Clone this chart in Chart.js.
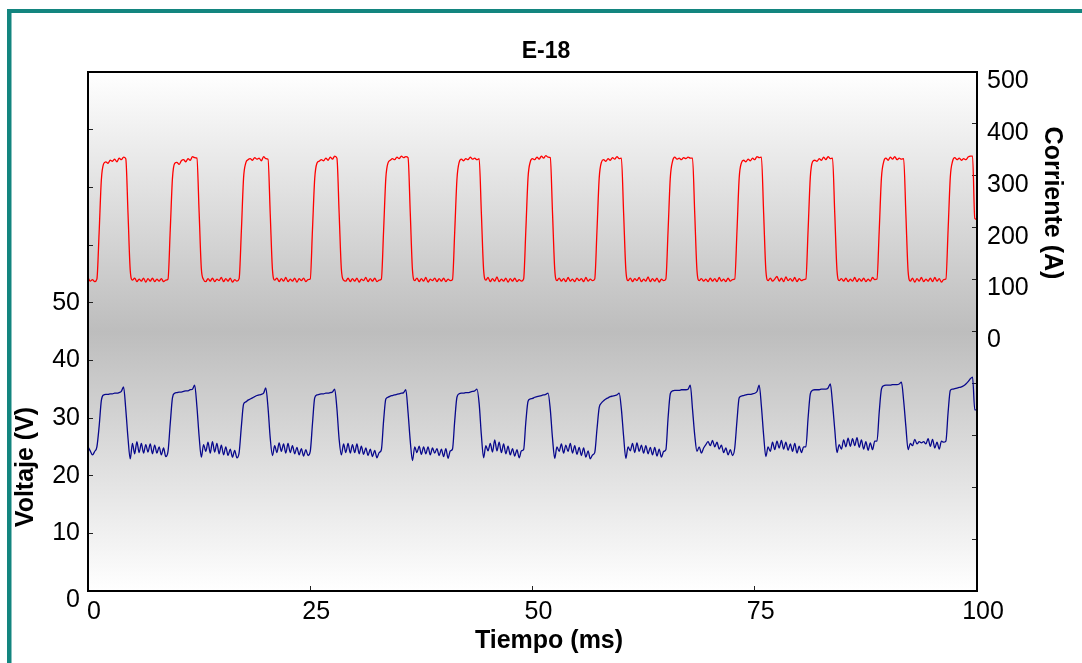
<!DOCTYPE html>
<html>
<head>
<meta charset="utf-8">
<title>E-18</title>
<script src="https://cdn.jsdelivr.net/npm/chart.js@4.4.1/dist/chart.umd.min.js"></script>
<style>
  html, body { margin: 0; padding: 0; background: #ffffff; }
  canvas { display: block; }
</style>
</head>
<body>
<canvas id="grafico" width="1082" height="663"></canvas>
<script>
// Sampling step of both traces, in milliseconds
const paso = 0.25;

// Welding current (A), one sample every 0.25 ms from 0 to 100 ms
const corriente = [
  104, 97, 100, 96,
  101, 190, 292, 323, 327, 324, 330, 328, 332, 327, 334, 331, 336, 333, 228, 118, 99,
  103, 96, 101, 97, 103, 95, 102, 97, 103, 96, 101, 97, 102, 96, 99,
  101, 195, 295, 324, 326, 322, 329, 331, 327, 333, 330, 337, 335, 334, 230, 121, 100,
  96, 102, 97, 103, 96, 101, 98, 104, 96, 102, 97, 103, 95, 100, 97,
  102, 193, 296, 325, 331, 333, 330, 335, 332, 334, 329, 337, 333, 332, 226, 119, 99,
  103, 96, 102, 97, 104, 96, 101, 97, 103, 95, 102, 98, 103, 96, 100,
  101, 196, 294, 324, 328, 331, 329, 334, 330, 336, 332, 338, 334, 228, 120, 99,
  97, 103, 96, 102, 97, 103, 95, 101, 98, 104, 96, 102, 97, 103, 96, 99,
  101, 194, 295, 325, 330, 333, 331, 336, 333, 338, 335, 337, 335, 229, 118, 98,
  103, 96, 102, 97, 104, 95, 101, 98, 103, 96, 102, 97, 103, 96, 101, 98,
  100, 192, 293, 326, 332, 329, 333, 331, 336, 332, 334, 331, 333, 227, 119, 99,
  104, 96, 102, 97, 105, 96, 101, 97, 103, 95, 102, 97, 103, 96, 100, 97,
  101, 195, 297, 327, 333, 331, 336, 332, 338, 334, 339, 336, 335, 229, 120, 98,
  103, 97, 102, 96, 104, 97, 101, 96, 103, 98, 102, 96, 104, 97, 101, 98,
  101, 193, 295, 326, 331, 328, 333, 330, 335, 332, 337, 333, 334, 228, 119, 98,
  103, 96, 102, 98, 104, 96, 101, 97, 105, 96, 102, 97, 103, 95, 101, 98,
  101, 194, 296, 328, 336, 332, 334, 331, 335, 333, 336, 334, 334, 227, 118, 98,
  102, 97, 101, 96, 103, 97, 102, 96, 104, 97, 101, 96, 103, 97, 100,
  101, 193, 296, 325, 330, 327, 332, 329, 334, 331, 337, 335, 336, 228, 118, 98,
  103, 97, 101, 106, 97, 103, 96, 105, 98, 102, 97, 104, 96, 102, 98, 100,
  101, 195, 297, 327, 330, 328, 333, 330, 336, 331, 337, 333, 334, 227, 118, 98,
  102, 97, 103, 96, 101, 97, 104, 96, 102, 97, 103, 96, 101, 97, 104, 100,
  101, 194, 296, 327, 334, 330, 336, 332, 337, 331, 334, 332, 333, 226, 116, 97,
  103, 95, 102, 97, 104, 96, 101, 97, 103, 96, 104, 97, 102, 95, 100,
  101, 196, 298, 328, 335, 331, 334, 330, 333, 331, 336, 338, 338, 218, 216
];

// Arc voltage (V), same time base
const voltaje = [
  25.0, 24.3, 23.6, 24.2,
  25.0, 28.5, 33.0, 34.0, 34.1, 34.1, 34.2, 34.2, 34.3, 34.3, 34.4, 34.6, 35.4, 31.5, 26.5, 22.9, 25.6,
  23.8, 25.9, 24.0, 25.6, 23.9, 25.4, 24.1, 25.5, 23.8, 25.3, 23.9, 25.0, 23.6, 24.8, 23.3,
  24.2, 29.0, 33.5, 34.3, 34.4, 34.5, 34.5, 34.6, 34.7, 34.7, 34.9, 35.0, 35.7, 32.0, 26.8, 23.2, 25.4,
  24.2, 25.8, 23.9, 25.9, 24.1, 25.6, 23.8, 25.3, 23.6, 25.0, 23.5, 24.6, 23.2, 24.4, 23.1,
  24.0, 28.5, 32.4, 32.8, 33.1, 33.3, 33.5, 33.7, 33.9, 34.0, 34.1, 34.3, 35.2, 31.8, 26.5, 23.5, 25.2,
  24.0, 25.7, 24.2, 25.5, 23.9, 25.6, 24.0, 25.2, 23.8, 24.9, 23.6, 24.7, 23.4, 24.5, 23.5,
  24.2, 29.0, 33.5, 34.0, 34.1, 34.2, 34.2, 34.3, 34.3, 34.4, 34.5, 35.0, 31.6, 26.3, 23.6, 25.5,
  24.0, 25.6, 23.9, 25.4, 24.0, 25.5, 23.8, 25.1, 23.7, 24.8, 23.5, 24.6, 23.3, 24.4, 23.1, 24.0,
  24.5, 29.5, 33.3, 33.6, 33.8, 33.9, 34.0, 34.1, 34.2, 34.3, 34.4, 34.9, 31.0, 26.0, 22.6, 25.0,
  24.0, 25.1, 23.7, 25.0, 23.8, 25.0, 23.6, 24.8, 23.9, 24.7, 23.5, 24.6, 23.3, 24.7, 23.0, 24.3,
  24.6, 29.5, 33.6, 34.2, 34.3, 34.3, 34.4, 34.4, 34.5, 34.6, 34.7, 35.0, 32.5, 27.0, 23.1, 25.2,
  24.3, 25.6, 24.1, 26.2, 24.3, 25.8, 24.0, 25.5, 23.8, 25.1, 23.6, 24.7, 23.4, 24.5, 23.1, 24.3,
  24.5, 29.3, 32.9, 33.3, 33.4, 33.6, 33.7, 33.8, 33.9, 34.0, 34.1, 34.3, 31.5, 26.5, 23.0, 25.0,
  24.2, 25.5, 23.9, 25.3, 24.2, 25.6, 23.9, 25.2, 23.7, 24.9, 23.5, 24.8, 23.2, 24.3, 22.9, 23.6,
  24.0, 28.0, 31.8, 32.6, 33.0, 33.3, 33.5, 33.7, 33.8, 33.9, 34.0, 34.3, 31.5, 26.8, 23.0, 25.0,
  24.3, 25.6, 24.0, 25.7, 24.2, 25.3, 23.9, 25.2, 23.8, 24.9, 23.6, 24.9, 23.4, 24.6, 23.2, 24.2,
  24.5, 30.0, 34.2, 34.7, 34.8, 34.8, 34.8, 34.9, 34.9, 34.9, 35.0, 35.7, 31.5, 27.0, 24.2, 25.0,
  23.9, 24.8, 25.4, 25.9, 25.2, 26.1, 25.0, 25.8, 24.6, 25.3, 24.0, 24.8, 23.6, 24.5, 23.5,
  24.8, 29.5, 33.5, 33.8, 33.9, 34.0, 34.1, 34.1, 34.2, 34.3, 34.6, 35.7, 32.0, 27.0, 23.3, 25.0,
  24.2, 25.8, 24.5, 26.0, 24.8, 26.1, 24.6, 25.8, 24.4, 25.5, 24.2, 25.6, 23.9, 25.1, 24.0, 25.0,
  25.0, 30.0, 34.2, 34.8, 34.9, 34.9, 34.9, 35.0, 35.0, 35.0, 35.2, 35.9, 32.5, 28.0, 24.0, 25.4,
  24.6, 26.2, 25.0, 26.5, 25.1, 26.4, 25.2, 26.6, 24.9, 26.2, 24.6, 25.9, 24.4, 25.7, 24.5, 26.0,
  26.0, 31.0, 35.0, 35.6, 35.7, 35.7, 35.7, 35.8, 35.8, 35.8, 35.9, 36.2, 33.0, 28.5, 24.5, 25.6,
  25.2, 26.3, 25.5, 25.9, 25.7, 25.9, 25.5, 26.4, 25.1, 26.3, 24.8, 25.8, 24.6, 26.0, 25.8,
  26.0, 31.0, 34.8, 35.0, 35.1, 35.2, 35.3, 35.4, 35.6, 35.9, 36.3, 36.8, 37.1, 31.4, 31.4
];

// Sample times (ms) for the traces above
const tiempo = corriente.map((_, i) => i * paso);

// Axis ranges and tick steps
const ejeTiempo = { min: 0, max: 100, paso: 25 };
const ejeVoltaje = { min: 0, max: 90, paso: 10, maxEtiqueta: 50 };
const ejeCorriente = { min: -500, max: 500, paso: 100, minEtiqueta: 0 };

const FUENTE = "'Liberation Sans', Arial, Helvetica, sans-serif";

// Frame, plot background, plot border and text titles
const decoracion = {
  id: 'decoracion',
  beforeDraw(chart) {
    const { ctx, chartArea: a } = chart;
    ctx.save();
    ctx.fillStyle = '#ffffff';
    ctx.fillRect(0, 0, chart.width, chart.height);
    // teal frame (left and top edges)
    ctx.fillStyle = '#13857f';
    ctx.fillRect(7, 9, 4.5, chart.height - 9);
    ctx.fillRect(7, 9, chart.width - 7, 4);
    // grey band across the plot area
    const g = ctx.createLinearGradient(0, a.top, 0, a.bottom);
    g.addColorStop(0, '#ffffff');
    g.addColorStop(0.5, '#bdbdbd');
    g.addColorStop(1, '#ffffff');
    ctx.fillStyle = g;
    ctx.fillRect(a.left, a.top, a.right - a.left, a.bottom - a.top);
    ctx.restore();
  },
  afterDraw(chart) {
    const { ctx, chartArea: a } = chart;
    ctx.save();
    ctx.strokeStyle = '#000000';
    ctx.lineWidth = 2;
    ctx.strokeRect(a.left, a.top, a.right - a.left, a.bottom - a.top);

    ctx.fillStyle = '#000000';
    ctx.textBaseline = 'alphabetic';
    ctx.textAlign = 'center';

    ctx.font = 'bold 23px ' + FUENTE;
    ctx.fillText('E-18', 546, 58);

    ctx.font = 'bold 25px ' + FUENTE;
    ctx.fillText('Tiempo (ms)', 549, 648);

    ctx.save();
    ctx.translate(33, 467);
    ctx.rotate(-Math.PI / 2);
    ctx.fillText('Voltaje (V)', 0, 0);
    ctx.restore();

    ctx.save();
    ctx.translate(1045, 203);
    ctx.rotate(Math.PI / 2);
    ctx.fillText('Corriente (A)', 0, 0);
    ctx.restore();

    ctx.restore();
  }
};

const fuenteTicks = { family: FUENTE, size: 25 };

const trazo = {
  pointRadius: 0,
  borderWidth: 1.3,
  cubicInterpolationMode: 'monotone',
  fill: false
};

new Chart(document.getElementById('grafico'), {
  type: 'line',
  data: {
    datasets: [
      Object.assign({
        label: 'Corriente (A)',
        data: tiempo.map((t, i) => ({ x: t, y: corriente[i] })),
        yAxisID: 'y1',
        borderColor: '#ff0000'
      }, trazo),
      Object.assign({
        label: 'Voltaje (V)',
        data: tiempo.map((t, i) => ({ x: t, y: voltaje[i] })),
        yAxisID: 'y',
        borderColor: '#08088c'
      }, trazo)
    ]
  },
  options: {
    responsive: false,
    animation: false,
    devicePixelRatio: 1,
    layout: { padding: { top: 72, left: 0, right: 0, bottom: 0 } },
    plugins: {
      legend: { display: false },
      tooltip: { enabled: false },
      title: { display: false }
    },
    scales: {
      x: {
        type: 'linear',
        position: 'bottom',
        min: ejeTiempo.min,
        max: ejeTiempo.max,
        border: { display: false },
        grid: { drawOnChartArea: false, tickLength: -5, color: '#222222', lineWidth: 1 },
        ticks: {
          stepSize: ejeTiempo.paso,
          color: '#000000',
          font: fuenteTicks,
          padding: 11,
          labelOffset: 6,
          maxRotation: 0,
          autoSkip: false
        },
        afterFit(s) { s.height = 72; }
      },
      y: {
        type: 'linear',
        position: 'left',
        min: ejeVoltaje.min,
        max: ejeVoltaje.max,
        border: { display: false },
        grid: { drawOnChartArea: false, tickLength: -5, color: '#222222', lineWidth: 1 },
        ticks: {
          stepSize: ejeVoltaje.paso,
          color: '#000000',
          font: { family: FUENTE, size: 25, lineHeight: 0.72 },
          padding: 13,
          autoSkip: false,
          // the zero label sits a little below the corner
          callback: v => (v === 0 ? ['', '0'] : (v <= ejeVoltaje.maxEtiqueta ? String(v) : ''))
        },
        afterFit(s) { s.width = 88; }
      },
      y1: {
        type: 'linear',
        position: 'right',
        min: ejeCorriente.min,
        max: ejeCorriente.max,
        border: { display: false },
        grid: { drawOnChartArea: false, tickLength: -5, color: '#222222', lineWidth: 1 },
        ticks: {
          stepSize: ejeCorriente.paso,
          color: '#000000',
          font: fuenteTicks,
          padding: 15,
          labelOffset: 9,
          autoSkip: false,
          callback: v => (v >= ejeCorriente.minEtiqueta ? String(v) : '')
        },
        afterFit(s) { s.width = 105; }
      }
    }
  },
  plugins: [decoracion]
});
</script>
</body>
</html>
